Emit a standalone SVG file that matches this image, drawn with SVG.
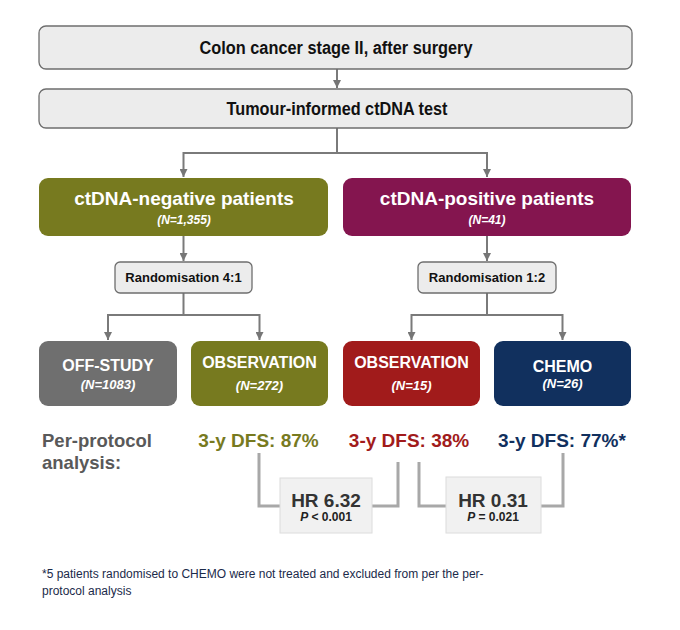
<svg xmlns="http://www.w3.org/2000/svg" width="680" height="630" viewBox="0 0 680 630">
<defs>
<marker id="arr" markerUnits="userSpaceOnUse" markerWidth="9" markerHeight="8" refX="8" refY="4" orient="auto">
<path d="M0,0 L8,4 L0,8 z" fill="#767676"/>
</marker>
<style>
text{font-family:"Liberation Sans",Arial,sans-serif;font-weight:bold;text-anchor:middle}
.gbox{fill:#ececec;stroke:#6e6e6e;stroke-width:1.3}
.conn{fill:none;stroke:#7a7a7a;stroke-width:2}
.brk{fill:none;stroke:#a8a8a8;stroke-width:3}
.hr{fill:#f1f1f1;stroke:#dcdcdc;stroke-width:1}
.w{fill:#ffffff}
.dk{fill:#111111}
.it{font-style:italic}
</style>
</defs>
<rect width="680" height="630" fill="#ffffff"/>

<g id="connectors">
<path class="conn" d="M337,69 V88" marker-end="url(#arr)"/>
<path class="conn" d="M337,128 V153 H183.5 V177" marker-end="url(#arr)"/>
<path class="conn" d="M337,153 H487 V177" marker-end="url(#arr)"/>
<path class="conn" d="M183.5,236 V261" marker-end="url(#arr)"/>
<path class="conn" d="M487,236 V261" marker-end="url(#arr)"/>
<path class="conn" d="M183.5,293 V315 H108 V340" marker-end="url(#arr)"/>
<path class="conn" d="M183.5,315 H259.5 V340" marker-end="url(#arr)"/>
<path class="conn" d="M487,293 V315 H411.5 V340" marker-end="url(#arr)"/>
<path class="conn" d="M487,315 H562.5 V340" marker-end="url(#arr)"/>
<path class="brk" d="M259,453 V506 H280"/>
<path class="brk" d="M398,462 V506 H372"/>
<path class="brk" d="M419,462 V506 H446"/>
<path class="brk" d="M563,453 V506 H541"/>
</g>

<g id="colon">
<rect class="gbox" x="39" y="26" width="593" height="43" rx="7"/>
<text class="dk" x="336" y="54" font-size="18" textLength="273" lengthAdjust="spacingAndGlyphs">Colon cancer stage II, after surgery</text>
</g>
<g id="test">
<rect class="gbox" x="39" y="89" width="593" height="39" rx="7"/>
<text class="dk" x="337" y="114.5" font-size="18" textLength="221" lengthAdjust="spacingAndGlyphs">Tumour-informed ctDNA test</text>
</g>

<g id="negative">
<rect x="39" y="178" width="289" height="58" rx="9" fill="#777a1f"/>
<text class="w" x="184" y="205" font-size="19">ctDNA-negative patients</text>
<text class="w it" x="184" y="224" font-size="12">(N=1,355)</text>
</g>
<g id="positive">
<rect x="343" y="178" width="288" height="58" rx="9" fill="#84154f"/>
<text class="w" x="487" y="205" font-size="19">ctDNA-positive patients</text>
<text class="w it" x="487" y="224" font-size="12">(N=41)</text>
</g>

<g id="rand1">
<rect class="gbox" x="115" y="262" width="137" height="31" rx="5"/>
<text class="dk" x="183.5" y="282" font-size="13">Randomisation 4:1</text>
</g>
<g id="rand2">
<rect class="gbox" x="418" y="262" width="138" height="31" rx="5"/>
<text class="dk" x="487" y="282" font-size="13">Randomisation 1:2</text>
</g>

<g id="offstudy">
<rect x="39" y="341" width="138" height="65" rx="9" fill="#6f6f6f"/>
<text class="w" x="108" y="371" font-size="16">OFF-STUDY</text>
<text class="w it" x="108" y="389" font-size="13">(N=1083)</text>
</g>
<g id="obs-neg">
<rect x="191" y="341" width="137" height="65" rx="9" fill="#777a1f"/>
<text class="w" x="259.5" y="368" font-size="16">OBSERVATION</text>
<text class="w it" x="259.5" y="390" font-size="13">(N=272)</text>
</g>
<g id="obs-pos">
<rect x="343" y="341" width="137" height="65" rx="9" fill="#a11b1b"/>
<text class="w" x="411.5" y="368" font-size="16">OBSERVATION</text>
<text class="w it" x="411.5" y="390" font-size="13">(N=15)</text>
</g>
<g id="chemo">
<rect x="494" y="341" width="137" height="65" rx="9" fill="#11305e"/>
<text class="w" x="562.5" y="372" font-size="16">CHEMO</text>
<text class="w it" x="562.5" y="388" font-size="13">(N=26)</text>
</g>

<g id="perprotocol">
<text x="42" y="447" font-size="18.5" fill="#595959" style="text-anchor:start">Per-protocol</text>
<text x="42" y="469" font-size="18.5" fill="#595959" style="text-anchor:start">analysis:</text>
</g>
<g id="dfs">
<text x="258.5" y="447" font-size="19" fill="#777a1f">3-y DFS: 87%</text>
<text x="409" y="447" font-size="19" fill="#a11b1b">3-y DFS: 38%</text>
<text x="562" y="447" font-size="19" fill="#11305e">3-y DFS: 77%*</text>
</g>

<g id="hr1">
<rect class="hr" x="280" y="478" width="92" height="55"/>
<text x="326" y="507" font-size="19" fill="#333333">HR 6.32</text>
<text x="326" y="521" font-size="12" fill="#222222"><tspan class="it">P</tspan> &lt; 0.001</text>
</g>
<g id="hr2">
<rect class="hr" x="446" y="477" width="95" height="56"/>
<text x="493" y="507" font-size="19" fill="#333333">HR 0.31</text>
<text x="493" y="521" font-size="12" fill="#222222"><tspan class="it">P</tspan> = 0.021</text>
</g>

<g id="footnote">
<text x="42" y="578" font-size="12" fill="#1b2a4a" style="text-anchor:start;font-weight:normal">*5 patients randomised to CHEMO were not treated and excluded from per the per-</text>
<text x="42" y="595" font-size="12" fill="#1b2a4a" style="text-anchor:start;font-weight:normal">protocol analysis</text>
</g>
</svg>
